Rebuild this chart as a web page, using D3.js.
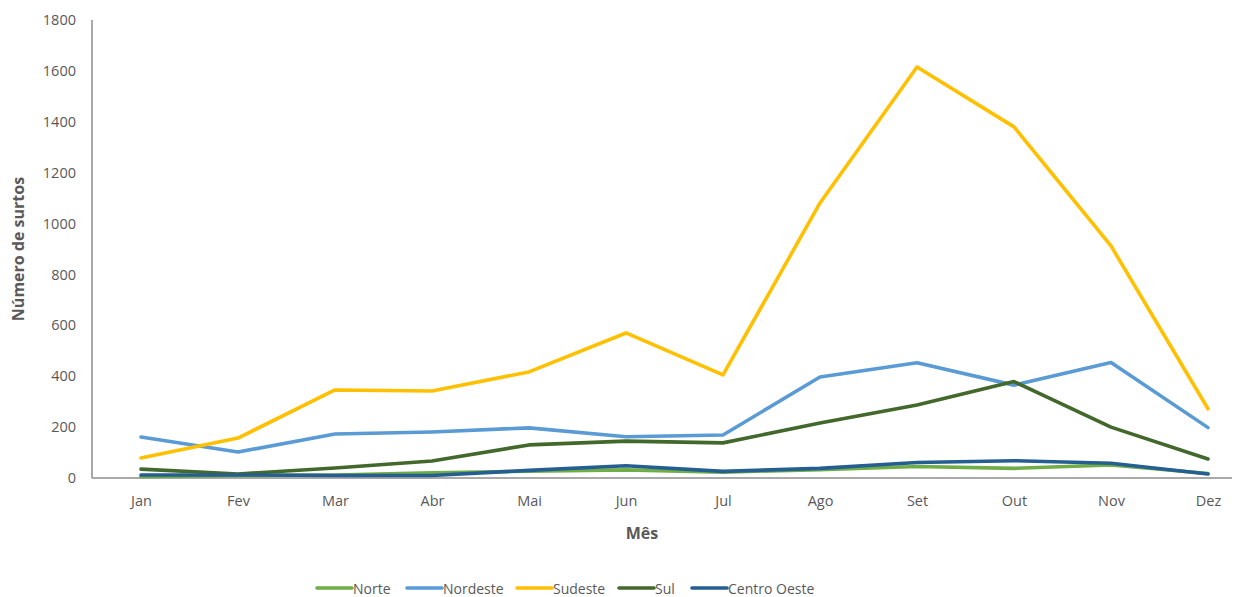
<!DOCTYPE html>
<html>
<head>
<meta charset="utf-8">
<script src="https://cdn.jsdelivr.net/npm/d3@7"></script>
<style>
  body { margin: 0; background: #fff; }
  text { font-family: "Open Sans", "Liberation Sans", sans-serif; fill: #595959; }
</style>
</head>
<body>
<svg id="chart" width="1239" height="597"></svg>
<script>
// months on the x axis
const months = ["Jan", "Fev", "Mar", "Abr", "Mai", "Jun", "Jul", "Ago", "Set", "Out", "Nov", "Dez"];
const yTicks = [0, 200, 400, 600, 800, 1000, 1200, 1400, 1600, 1800];

// series values
const norte       = [5, 10, 12, 20, 27, 32, 23, 33, 45, 38, 51, 18];
const nordeste    = [161, 102, 173, 181, 197, 162, 169, 397, 453, 365, 454, 198];
const sudeste     = [79, 157, 346, 342, 417, 570, 405, 1081, 1615, 1380, 912, 272];
const sul         = [35, 16, 39, 67, 130, 145, 138, 216, 287, 379, 200, 75];
const centroOeste = [12, 12, 10, 10, 30, 48, 26, 38, 61, 68, 58, 16];

const seriesNames = ["Norte", "Nordeste", "Sudeste", "Sul", "Centro Oeste"];
const seriesColors = ["#70AD47", "#5B9BD5", "#FFC000", "#43682B", "#255E91"];
const seriesData = [norte, nordeste, sudeste, sul, centroOeste];

let svg = d3.select("#chart");

let margin = {left: 92, top: 20, bottom: 478, right: 1232};

let xScale = d3.scalePoint()
    .domain(months)
    .range([141, 1208]);

let yScale = d3.scaleLinear()
    .domain([0, 1800])
    .range([margin.bottom, margin.top]);

//y-axis labels, no tick marks
let yAxis = svg.append("g")
    .attr("transform", "translate(" + margin.left + ",0)")
    .call(d3.axisLeft(yScale).tickValues(yTicks).tickFormat(d3.format("d")).tickSize(0).tickPadding(16));
yAxis.select(".domain").remove();
yAxis.selectAll("text")
    .style("font-size", "14.5px")
    .attr("fill", "#595959");

//x-axis labels
let xAxis = svg.append("g")
    .attr("transform", "translate(0," + margin.bottom + ")")
    .call(d3.axisBottom(xScale).tickSize(0).tickPadding(18));
xAxis.select(".domain").remove();
xAxis.selectAll("text")
    .style("font-size", "14.5px")
    .attr("fill", "#595959");

//axis lines
svg.append("line")
    .attr("x1", margin.left).attr("x2", margin.left)
    .attr("y1", margin.top).attr("y2", margin.bottom)
    .attr("stroke", "#8c8c8c").attr("stroke-width", 1.5);
svg.append("line")
    .attr("x1", margin.left).attr("x2", margin.right)
    .attr("y1", margin.bottom).attr("y2", margin.bottom)
    .attr("stroke", "#8c8c8c").attr("stroke-width", 1.5);

//axis titles
svg.append("text")
    .attr("x", 642).attr("y", 539)
    .attr("text-anchor", "middle")
    .style("font-size", "16px").style("font-weight", "bold")
    .text("Mês");

svg.append("text")
    .attr("transform", "rotate(-90)")
    .attr("x", -249).attr("y", 24)
    .attr("text-anchor", "middle")
    .style("font-size", "16px").style("font-weight", "bold")
    .text("Número de surtos");

//the lines
let lineGraph = d3.line()
    .x((d, i) => xScale(months[i]))
    .y(d => yScale(d));

svg.append("g").selectAll("path")
    .data(seriesData)
    .join("path")
    .attr("d", lineGraph)
    .attr("fill", "none")
    .attr("stroke", (d, i) => seriesColors[i])
    .attr("stroke-width", 3.6)
    .attr("stroke-linejoin", "round")
    .attr("stroke-linecap", "round");

//legend, item starts as in the original
let legendX = [317, 407, 517, 619, 692];
let legend = svg.append("g");
seriesNames.forEach((name, i) => {
    legend.append("line")
        .attr("x1", legendX[i]).attr("x2", legendX[i] + 35)
        .attr("y1", 588).attr("y2", 588)
        .attr("stroke", seriesColors[i])
        .attr("stroke-width", 3.6)
        .attr("stroke-linecap", "round");
    legend.append("text")
        .attr("x", legendX[i] + 36).attr("y", 593.5)
        .style("font-size", "14px")
        .text(name);
});
</script>
</body>
</html>
